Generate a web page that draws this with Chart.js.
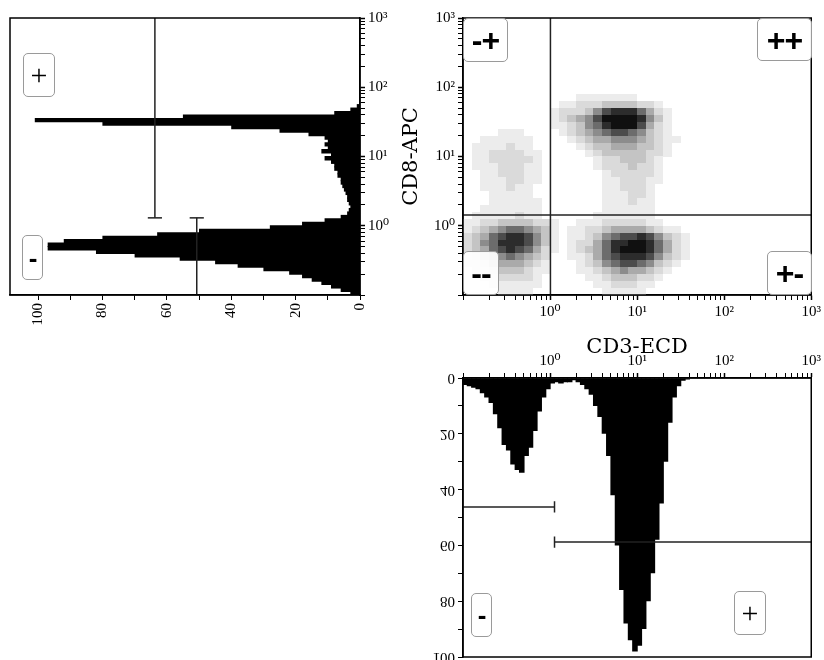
<!DOCTYPE html>
<html>
<head>
<meta charset="utf-8">
<script src="https://cdn.jsdelivr.net/npm/chart.js@4.4.1/dist/chart.umd.min.js"></script>
<style>
  html, body { margin: 0; padding: 0; background: #fff; }
  #page { position: relative; width: 824px; height: 660px; overflow: hidden; }
  #page canvas { position: absolute; }
  .gate { position: absolute; box-sizing: border-box; border: 1px solid #9a9a9a; border-radius: 5px;
          background: rgba(255,255,255,0.9); display: flex; align-items: center; justify-content: center;
          font-family: "Liberation Sans", Arial, sans-serif; color: #000; line-height: 1; }
  .thin { font-family: "Liberation Serif", serif; font-weight: normal; font-size: 30px; }
  .bold { font-weight: bold; font-size: 32px; letter-spacing: -1px; }
</style>
</head>
<body>
<div id="page">
  <canvas id="cd8Hist" width="400" height="340" style="left:0;top:0"></canvas>
  <canvas id="dotPlot" width="429" height="360" style="left:395px;top:0"></canvas>
  <canvas id="cd3Hist" width="429" height="320" style="left:395px;top:340px"></canvas>

  <div class="gate thin" style="left:23px;top:53px;width:32px;height:44px">+</div>
  <div class="gate bold" style="left:22px;top:235px;width:21px;height:45px;font-size:26px">-</div>

  <div class="gate bold" style="left:463px;top:18px;width:45px;height:44px">-+</div>
  <div class="gate bold" style="left:757px;top:18px;width:55px;height:43px">++</div>
  <div class="gate bold" style="left:463px;top:251px;width:36px;height:44px">--</div>
  <div class="gate bold" style="left:767px;top:251px;width:45px;height:44px">+-</div>

  <div class="gate bold" style="left:471px;top:593px;width:21px;height:44px;font-size:26px">-</div>
  <div class="gate thin" style="left:734px;top:591px;width:32px;height:44px">+</div>
</div>

<script>
// histogram channels: 0.05 decade wide, first one starts at 10^-1
const CH_START = -1;
const CH_WIDTH = 0.05;

// CD8-APC histogram (left), counts per channel from 10^-1 upwards
const cd8Counts = [3, 6, 9, 12, 15, 18, 22, 30, 38, 45,
                   56, 70, 82, 97, 97, 92, 80, 63, 50, 28,
                   18, 11, 6, 4, 3.5, 3, 3.5, 4, 4, 4.5,
                   5, 5.5, 6, 6, 7, 7, 8, 8, 9, 11,
                   9, 12, 10, 11, 10, 11, 16, 25, 40, 80,
                   101, 55, 8, 3, 1];

// CD3-ECD histogram (bottom), counts per channel from 10^-1 upwards
const cd3Counts = [2.5, 3, 3.5, 4, 5.5, 7, 9, 13, 18, 24,
                   26, 31, 33, 34, 28, 25, 19, 12, 7, 4,
                   2, 1.5, 2, 1.5, 1.5, 0.8, 1.5, 2.5, 4, 6,
                   10, 14, 20, 28, 42, 60, 76, 88, 94, 98,
                   96, 90, 80, 70, 58, 45, 30, 16, 7, 3,
                   1, 0.5];

// histogram markers: count level, start and end of the range (marker cap sits at the shared end)
const cd8MarkerLevel = [50.7, 63.7];
const cd8MarkerFrom = [0.1, 1.3];
const cd8MarkerTo = [1.3, 1000];
const cd3MarkerLevel = [46.2, 58.8];
const cd3MarkerFrom = [0.1, 1.125];
const cd3MarkerTo = [1.125, 1000];

// quadrant cut points of the dot plot
const cd3Cut = 1.01;
const cd8Cut = 1.43;

// dot plot density, 0.1 decade cells, columns from CD3 10^-1, rows from CD8 10^1.9 (top) down to 10^-1
const dotRows = [
  '0000000000000111111100000000',
  '0000000000011222333322100000',
  '0000000000122235788864210000',
  '0000000000123457999985310000',
  '0000000000112356899974210000',
  '0000111000012345677653210000',
  '0011111100001234455543211000',
  '0111121100000123344433210000',
  '0112222110000012333332210000',
  '0112222210000001223332100000',
  '0111222110000001222322100000',
  '0011222110000000122222100000',
  '0011122110000000112221100000',
  '0011121100000000112221000000',
  '0001111100000000111221000000',
  '0001111110000000111211000000',
  '0011111110000000111111000000',
  '0111112110000001111111000000',
  '1122333322100111222221100000',
  '1234566543101122344443211000',
  '2346788753101123567787532100',
  '2356888753101224688998642100',
  '2346787642101234689998642100',
  '1234565432001124678887532100',
  '1123444321000123567765321000',
  '0112333211000112345443210000',
  '0011222210000011233322100000',
  '0001111110000001122211000000',
  '0000111100000000111110000000'
];

// axis labels
const decadeLabels = { 1: '10⁰', 10: '10¹', 100: '10²', 1000: '10³' };
const countLabels = [0, 20, 40, 60, 80, 100];
const logTickValues = [];
[0.1, 1, 10, 100].forEach(d => {
    for (let m = 1; m < 10; m++) logTickValues.push(+(m * d).toPrecision(3));
});
logTickValues.push(1000);

const serif = '"Liberation Serif", "DejaVu Serif", serif';
const titleFont = { family: '"DejaVu Serif", serif', size: 21 };
const chan = i => Math.pow(10, CH_START + (i + 0.5) * CH_WIDTH);

const grid = {
    drawOnChartArea: false, offset: false, color: '#000', tickLength: 5,
    tickWidth: c => (c.tick && c.tick.major ? 1.5 : 1)
};
const border = { color: '#000', width: 1.5 };
const tickFont = { family: serif, size: 15 };

function logAxis(position, extra) {
    return Object.assign({
        type: 'logarithmic', position: position, min: 0.1, max: 1000, offset: false,
        afterBuildTicks: s => { s.ticks = logTickValues.map(v => ({ value: v, major: v in decadeLabels })); },
        ticks: { autoSkip: false, minRotation: 0, maxRotation: 0, padding: 3, color: '#000', font: tickFont,
                 callback: v => decadeLabels[v] || '' },
        grid: grid,
        border: border
    }, extra);
}

function countAxis(position, extra) {
    return Object.assign({
        type: 'linear', position: position, min: 0,
        ticks: { stepSize: 10, includeBounds: false, autoSkip: false, color: '#000', font: tickFont, padding: 3,
                 callback: v => countLabels.includes(v) ? String(v) : '' },
        grid: grid,
        border: border
    }, extra);
}

function segment(points) {
    return { type: 'line', data: points, borderColor: '#222', borderWidth: 1.5, pointRadius: 0,
             fill: false, order: 0 };
}

// frame round the plot area
const framePlugin = {
    id: 'frame',
    afterDatasetsDraw(chart) {
        const { ctx, chartArea: a } = chart;
        ctx.save();
        ctx.strokeStyle = '#000';
        ctx.lineWidth = 1.5;
        ctx.strokeRect(a.left, a.top, a.right - a.left, a.bottom - a.top);
        ctx.restore();
    }
};

// the bottom histogram's count labels are printed upside down
const flippedLabels = {
    id: 'flippedLabels',
    afterDraw(chart) {
        const s = chart.scales.y;
        const ctx = chart.ctx;
        ctx.save();
        ctx.font = '15px ' + serif;
        ctx.fillStyle = '#000';
        ctx.textAlign = 'right';
        ctx.textBaseline = 'middle';
        countLabels.forEach(v => {
            ctx.save();
            ctx.translate(s.right - 8, s.getPixelForValue(v));
            ctx.scale(1, -1);
            ctx.fillText(String(v), 0, 0);
            ctx.restore();
        });
        ctx.restore();
    }
};

const common = {
    responsive: false,
    animation: false,
    events: [],
    plugins: { legend: { display: false }, tooltip: { enabled: false } }
};

// bars of neighbouring channels overlap a little so no seams show
const barStyle = { backgroundColor: '#000', borderWidth: 0, barPercentage: 1.4, categoryPercentage: 1, order: 1 };

// ---- CD8 histogram, lying on its side ----
const cd8Sets = [Object.assign({ type: 'bar', data: cd8Counts.map((c, i) => ({ x: c, y: chan(i) })) }, barStyle)];
cd8MarkerLevel.forEach((lv, i) => {
    cd8Sets.push(segment([{ x: lv, y: cd8MarkerFrom[i] }, { x: lv, y: cd8MarkerTo[i] }]));
    const capAt = i === 0 ? cd8MarkerTo[i] : cd8MarkerFrom[i];
    cd8Sets.push(segment([{ x: lv - 2.2, y: capAt }, { x: lv + 2.2, y: capAt }]));
});

new Chart(document.getElementById('cd8Hist'), {
    type: 'bar',
    data: { datasets: cd8Sets },
    options: Object.assign({}, common, {
        indexAxis: 'y',
        layout: { padding: { left: 10, top: 18, right: 0, bottom: 0 } },
        scales: {
            x: countAxis('bottom', {
                reverse: true, max: 108.7,
                afterFit: s => { s.height = 45; },
                ticks: { stepSize: 10, includeBounds: false, autoSkip: false, color: '#000', font: tickFont,
                         padding: 3, minRotation: 90, maxRotation: 90,
                         callback: v => countLabels.includes(v) ? String(v) : '' }
            }),
            y: logAxis('right', { afterFit: s => { s.width = 40; } })
        }
    }),
    plugins: [framePlugin]
});

// ---- CD3 / CD8 dot plot ----
const grays = [255, 236, 218, 196, 170, 140, 108, 76, 44, 16];
const cellImages = grays.map(g => {
    const c = document.createElement('canvas');
    c.width = 9;
    c.height = 7;
    const cx = c.getContext('2d');
    cx.fillStyle = 'rgb(' + g + ',' + g + ',' + g + ')';
    cx.fillRect(0, 0, 9, 7);
    return c;
});

const cells = [];
dotRows.forEach((row, k) => {
    const r = dotRows.length - 1 - k;
    [...row].forEach((ch, c) => {
        const level = +ch;
        if (level) cells.push({ x: Math.pow(10, -1 + (c + 0.5) * 0.1), y: Math.pow(10, -1 + (r + 0.5) * 0.1), level: level });
    });
});

new Chart(document.getElementById('dotPlot'), {
    type: 'scatter',
    data: {
        datasets: [
            { data: cells, pointStyle: c => cellImages[c.raw.level], pointRadius: 4, order: 2 },
            Object.assign(segment([{ x: cd3Cut, y: 0.1 }, { x: cd3Cut, y: 1000 }]), { type: 'scatter', showLine: true }),
            Object.assign(segment([{ x: 0.1, y: cd8Cut }, { x: 1000, y: cd8Cut }]), { type: 'scatter', showLine: true })
        ]
    },
    options: Object.assign({}, common, {
        layout: { padding: { left: 0, top: 18, right: 11, bottom: 0 } },
        scales: {
            x: logAxis('bottom', {
                afterFit: s => { s.height = 65; },
                title: { display: true, text: 'CD3-ECD', color: '#000', font: titleFont,
                         padding: { top: 12, bottom: 0 } }
            }),
            y: logAxis('left', {
                afterFit: s => { s.width = 68; },
                title: { display: true, text: 'CD8-APC', color: '#000', font: titleFont,
                         padding: { top: 4, bottom: 0 } }
            })
        }
    }),
    plugins: [framePlugin]
});

// ---- CD3 histogram, hanging from the top ----
const cd3Sets = [Object.assign({ type: 'bar', data: cd3Counts.map((c, i) => ({ x: chan(i), y: c })) }, barStyle)];
cd3MarkerLevel.forEach((lv, i) => {
    cd3Sets.push(segment([{ x: cd3MarkerFrom[i], y: lv }, { x: cd3MarkerTo[i], y: lv }]));
    const capAt = i === 0 ? cd3MarkerTo[i] : cd3MarkerFrom[i];
    cd3Sets.push(segment([{ x: capAt, y: lv - 2 }, { x: capAt, y: lv + 2 }]));
});

new Chart(document.getElementById('cd3Hist'), {
    type: 'bar',
    data: { datasets: cd3Sets },
    options: Object.assign({}, common, {
        layout: { padding: { left: 0, top: 0, right: 11, bottom: 3 } },
        scales: {
            x: logAxis('top', { afterFit: s => { s.height = 38; } }),
            y: countAxis('left', {
                reverse: true, max: 100,
                afterFit: s => { s.width = 68; },
                ticks: { stepSize: 10, display: false }
            })
        }
    }),
    plugins: [framePlugin, flippedLabels]
});
</script>
</body>
</html>
